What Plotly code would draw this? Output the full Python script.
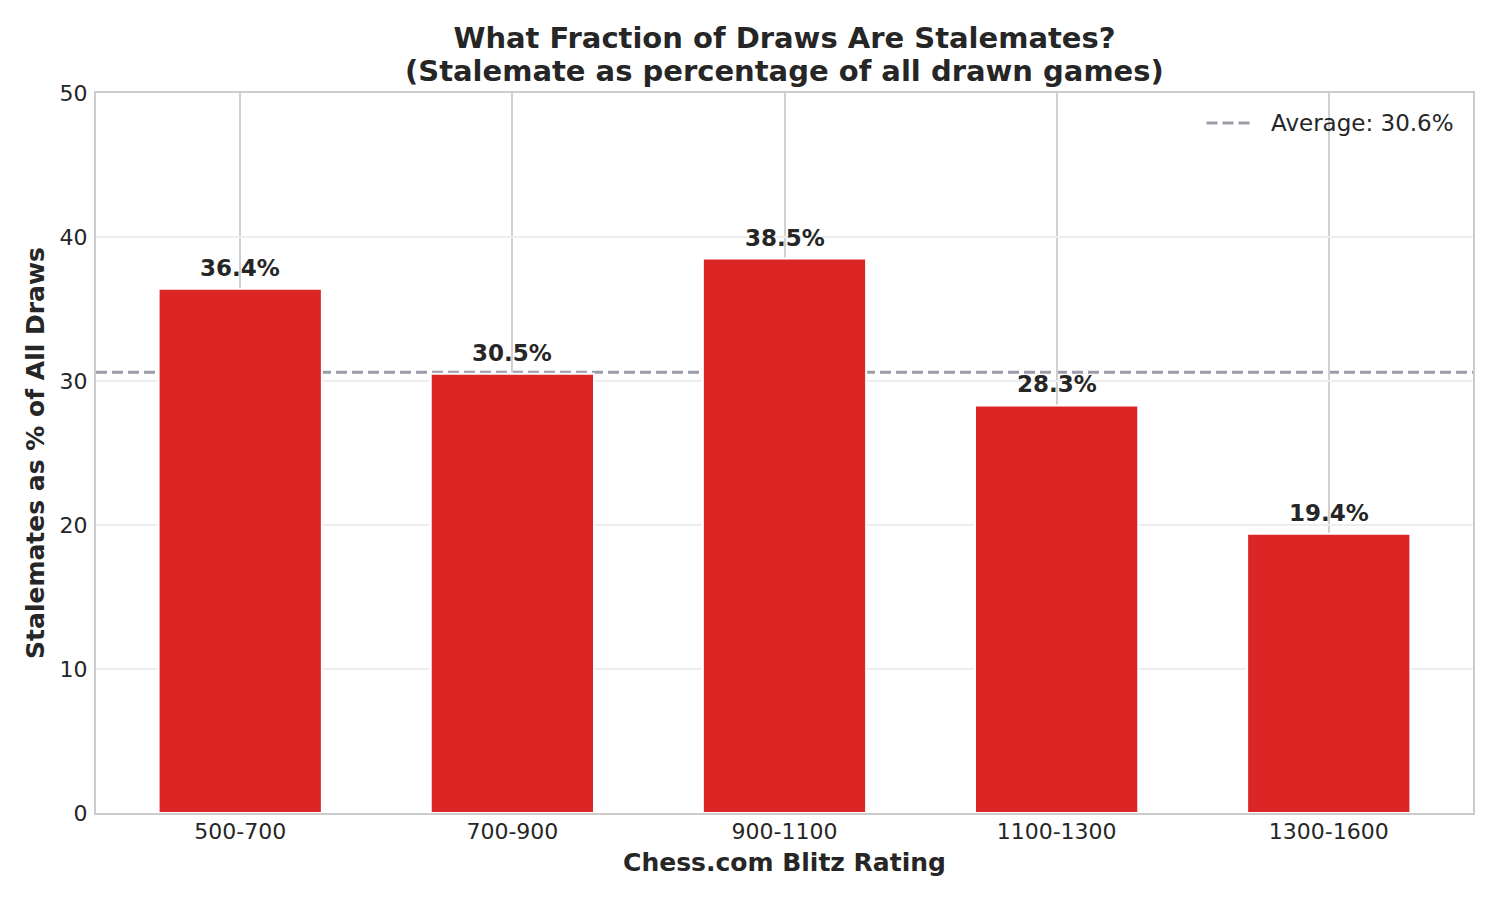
import plotly.graph_objects as go

categories = ["500-700", "700-900", "900-1100", "1100-1300", "1300-1600"]
stalemate_pct = [36.4, 30.5, 38.5, 28.3, 19.4]
average_pct = 30.6
y_ticks = [0, 10, 20, 30, 40, 50]

TXT = "#262626"
FONT = "DejaVu Sans"
AVG_COLOR = "#9a9ca8"
AVG_DASH = "11px,5px"

fig = go.Figure()
fig.add_trace(go.Bar(
    x=categories, y=stalemate_pct, width=0.6,
    marker=dict(color="#dc2626", line=dict(color="white", width=2)),
    showlegend=False, hoverinfo="skip",
))

# average reference line (behind bars)
fig.add_shape(type="line", xref="paper", x0=0, x1=1, yref="y",
              y0=average_pct, y1=average_pct, layer="below",
              line=dict(color=AVG_COLOR, width=3, dash=AVG_DASH))

# value labels
for c, v in zip(categories, stalemate_pct):
    fig.add_annotation(x=c, y=v, text=f"<b>{v}%</b>", showarrow=False,
                       yanchor="bottom", yshift=6,
                       font=dict(family=FONT, size=23, color=TXT))

# legend (drawn as handle + label, matplotlib style)
fig.add_shape(type="line", xref="paper", yref="paper", x0=0.8065, x1=0.8392,
              y0=0.9583, y1=0.9583, layer="above",
              line=dict(color=AVG_COLOR, width=3, dash=AVG_DASH))
fig.add_annotation(xref="paper", yref="paper", x=0.8522, y=0.9583,
                   xanchor="left", yanchor="middle", showarrow=False,
                   text=f"Average: {average_pct}%",
                   font=dict(family=FONT, size=23, color=TXT))

# subtitle line
fig.add_annotation(xref="paper", yref="paper", x=0.5, y=1.0306,
                   xanchor="center", yanchor="middle", showarrow=False,
                   text="<b>(Stalemate as percentage of all drawn games)</b>",
                   font=dict(family=FONT, size=29, color=TXT))

fig.update_layout(
    width=1500, height=900,
    paper_bgcolor="white", plot_bgcolor="white",
    margin=dict(l=88, r=35, t=85, b=95),
    font=dict(family=FONT, size=22, color=TXT),
    title=dict(
        text="<b>What Fraction of Draws Are Stalemates?</b>",
        x=0.5, xanchor="center", xref="paper",
        y=1 - 30 / 900, yanchor="middle", yref="container",
        font=dict(family=FONT, size=29, color=TXT),
    ),
    showlegend=False,
)
fig.update_xaxes(
    range=[-0.53, 4.53], showgrid=True, gridcolor="#d0d0d0", gridwidth=1.6,
    showline=True, linecolor="#cccccc", linewidth=2, mirror=True,
    ticks="", ticklabelstandoff=-2,
    tickfont=dict(size=22, color=TXT),
    title=dict(text="<b>Chess.com Blitz Rating</b>", font=dict(size=25, color=TXT), standoff=10),
)
fig.update_yaxes(
    range=[0, 50], tickvals=y_ticks, showgrid=True, gridcolor="#ededed", gridwidth=1.6,
    zeroline=False,
    showline=True, linecolor="#cccccc", linewidth=2, mirror=True,
    ticks="", ticklabelstandoff=2,
    tickfont=dict(size=22, color=TXT),
    title=dict(text="<b>Stalemates as % of All Draws</b>", font=dict(size=25, color=TXT), standoff=8),
)

fig.write_html("out.html")
